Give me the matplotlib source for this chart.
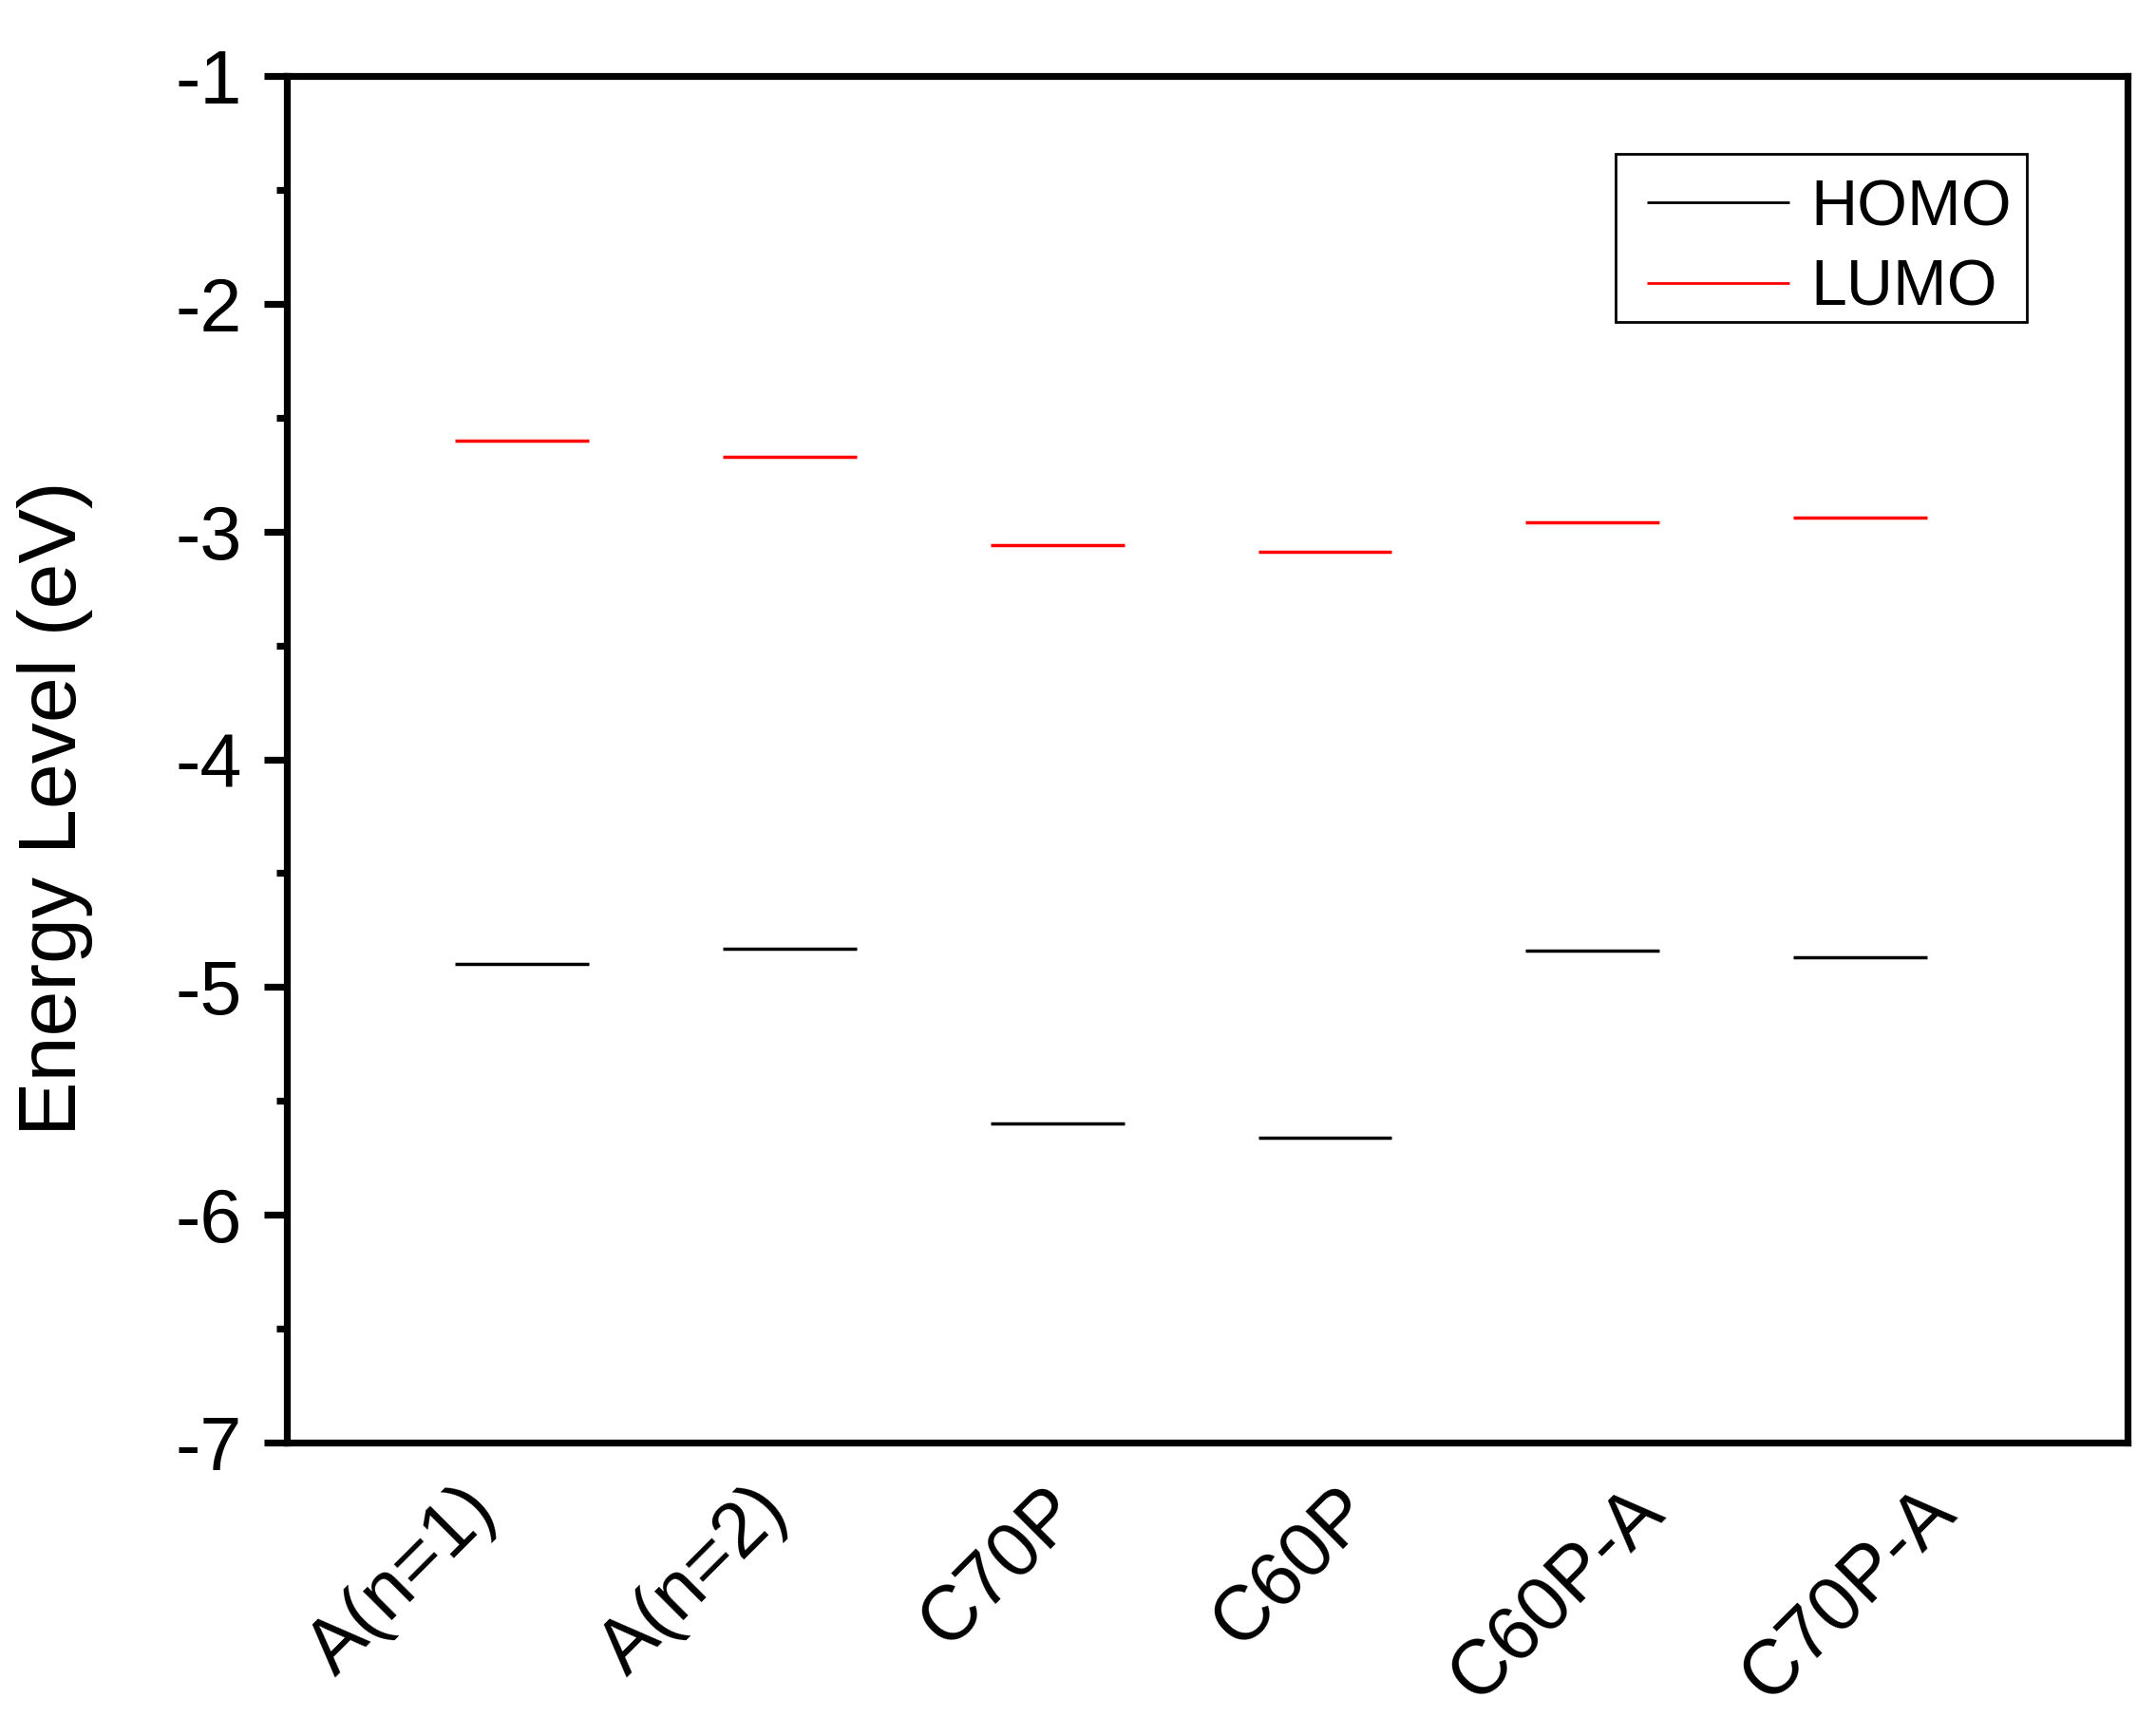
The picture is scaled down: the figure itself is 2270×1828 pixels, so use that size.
import numpy as np
import matplotlib
matplotlib.use("Agg")
import matplotlib.pyplot as plt
from matplotlib.patches import Rectangle
from matplotlib.ticker import MultipleLocator, FixedLocator, NullLocator, FuncFormatter

plt.rcParams["font.family"] = ["Liberation Sans", "DejaVu Sans"]

# ---- data ----
molecules = ["A(n=1)", "A(n=2)", "C70P", "C60P", "C60P-A", "C70P-A"]
homo = [-4.90, -4.83, -5.60, -5.66, -4.84, -4.87]
lumo = [-2.60, -2.67, -3.06, -3.09, -2.96, -2.94]

HALF_W = 0.25          # half-width of each level bar (x units)
LW_AX = 5.2
LW_LEVEL = 2.5
W, H = 2270, 1828      # figure size in px

fig = plt.figure(figsize=(W / 100, H / 100), dpi=100)
ax = fig.add_axes([302 / W, 1 - 1519 / H, (2240 - 302) / W, (1519 - 80) / H])

x = np.arange(1, len(molecules) + 1)
ax.hlines(homo, x - HALF_W, x + HALF_W, colors="black", lw=LW_LEVEL, label="HOMO")
ax.hlines(lumo, x - HALF_W, x + HALF_W, colors="red", lw=LW_LEVEL, label="LUMO")

ax.set_xlim(0.12, 7.0)
ax.set_ylim(-7, -1)

for s in ax.spines.values():
    s.set_linewidth(LW_AX)

ax.yaxis.set_major_locator(MultipleLocator(1))
ax.yaxis.set_minor_locator(MultipleLocator(0.5))
ax.tick_params(axis="y", which="major", direction="out", length=17, width=LW_AX,
               labelsize=57, pad=17, right=False)
ax.tick_params(axis="y", which="minor", direction="out", length=8, width=LW_AX, right=False)
ax.yaxis.set_major_formatter(FuncFormatter(lambda v, p: f"{v:.0f}"))
ax.xaxis.set_major_locator(NullLocator())

# category labels sit on their own, slightly wider-spaced scale (as in the original)
lab = ax.twiny()
lab.set_xlim(0.32, 6.63)
lab.xaxis.set_ticks_position("bottom")
lab.xaxis.set_label_position("bottom")
lab.xaxis.set_major_locator(FixedLocator(x))
lab.set_xticklabels(molecules, rotation=45, ha="right", va="center",
                    rotation_mode="anchor", fontsize=58)
lab.tick_params(axis="x", length=0, pad=43)
for s in lab.spines.values():
    s.set_visible(False)

fig.text(58 / W, 1 - 851 / H, "Energy Level (eV)", rotation=90,
         ha="center", va="center", fontsize=62)

# legend content without frame; frame drawn as its own box
leg = ax.legend(loc="upper left", bbox_to_anchor=(1734 / W, 1 - 187 / H),
                bbox_transform=fig.transFigure, borderaxespad=0, borderpad=0,
                fontsize=49, handlelength=2.21, handletextpad=0.33,
                labelspacing=0.30, frameon=False)
for h in leg.legend_handles:
    h.set_linewidth(2.0)
fig.add_artist(Rectangle((1701 / W, 1 - 339 / H), (2134 - 1701) / W, (339 - 162) / H,
                         transform=fig.transFigure, fill=False, ec="black", lw=2.0))

fig.savefig("out.png", dpi=100, facecolor="white")
